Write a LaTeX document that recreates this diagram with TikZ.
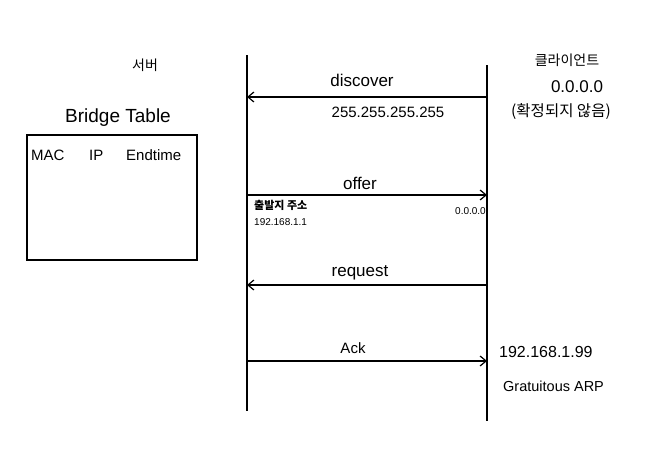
\documentclass[tikz,border=0pt]{standalone}
\usepackage{fontspec}
\setmainfont{Liberation Sans}
\newfontfamily\kr{Noto Sans CJK KR}
\usetikzlibrary{arrows.meta}
\begin{document}
\begin{tikzpicture}[x=1pt,y=-1pt,
  line/.style={line width=1.4pt,black},
  msg/.style={line width=1.2pt,-{Straight Barb[length=6pt,width=10pt]}},
  lbl/.style={font=\fontsize{17}{17}\selectfont,inner sep=0pt},
  small/.style={font=\fontsize{10}{10}\selectfont,inner sep=0pt}]
\useasboundingbox (0,0) rectangle (649,455);
% lifelines
\coordinate (sTop) at (247,55);
\coordinate (sBot) at (247,411);
\coordinate (cTop) at (487,65);
\coordinate (cBot) at (487,421);
\draw[line] (sTop) -- (sBot);
\draw[line] (cTop) -- (cBot);
% message endpoints
\coordinate (s1) at (247,97);  \coordinate (c1) at (487,97);
\coordinate (s2) at (247,195); \coordinate (c2) at (487,195);
\coordinate (s3) at (247,285); \coordinate (c3) at (487,285);
\coordinate (s4) at (247,361); \coordinate (c4) at (487,361);
\draw[msg] (c1) -- (s1);
\draw[msg] (s2) -- (c2);
\draw[msg] (c3) -- (s3);
\draw[msg] (s4) -- (c4);
% message labels
\node[lbl] (discover) at (362,80) {discover};
\node[lbl,font=\fontsize{15}{15}\selectfont] (bcast) at (388,112) {255.255.255.255};
\node[lbl] (offer) at (360,183) {offer};
\node[small,font=\kr\bfseries\fontsize{11}{11}\selectfont,anchor=west] (src) at (254,205) {출발지 주소};
\node[small,anchor=west] (srcip) at (254,222) {192.168.1.1};
\node[small,anchor=east] (zero2) at (486,211) {0.0.0.0};
\node[lbl] (request) at (360,273) {request};
\node[lbl,font=\fontsize{15}{15}\selectfont] (ack) at (353,348) {Ack};
% server side
\node[inner sep=0pt,font=\kr\fontsize{14}{14}\selectfont] (server) at (145,65) {서버};
\node[lbl,font=\fontsize{19}{19}\selectfont] (bt) at (118,118) {Bridge Table};
\node[draw,line width=1.4pt,minimum width=170pt,minimum height=125pt,inner sep=0pt] (table) at (112,197.5) {};
\node[lbl,font=\fontsize{15}{15}\selectfont,anchor=west] (colmac) at (31,155) {MAC};
\node[lbl,font=\fontsize{15}{15}\selectfont,anchor=west] (colip) at (89,155) {IP};
\node[lbl,font=\fontsize{15}{15}\selectfont,anchor=west] (colend) at (126,155) {Endtime};
% client side
\node[inner sep=0pt,font=\kr\fontsize{14}{14}\selectfont] (client) at (567,60) {클라이언트};
\node[lbl] (zero1) at (577,87) {0.0.0.0};
\node[inner sep=0pt,font=\kr\fontsize{15.5}{15.5}\selectfont] (unconf) at (561,112) {(확정되지 않음)};
\node[lbl,font=\fontsize{16}{16}\selectfont,anchor=west] (ip99) at (499,352) {192.168.1.99};
\node[lbl,font=\fontsize{14.5}{14.5}\selectfont,anchor=west] (garp) at (503,386) {Gratuitous ARP};
\end{tikzpicture}
\end{document}
